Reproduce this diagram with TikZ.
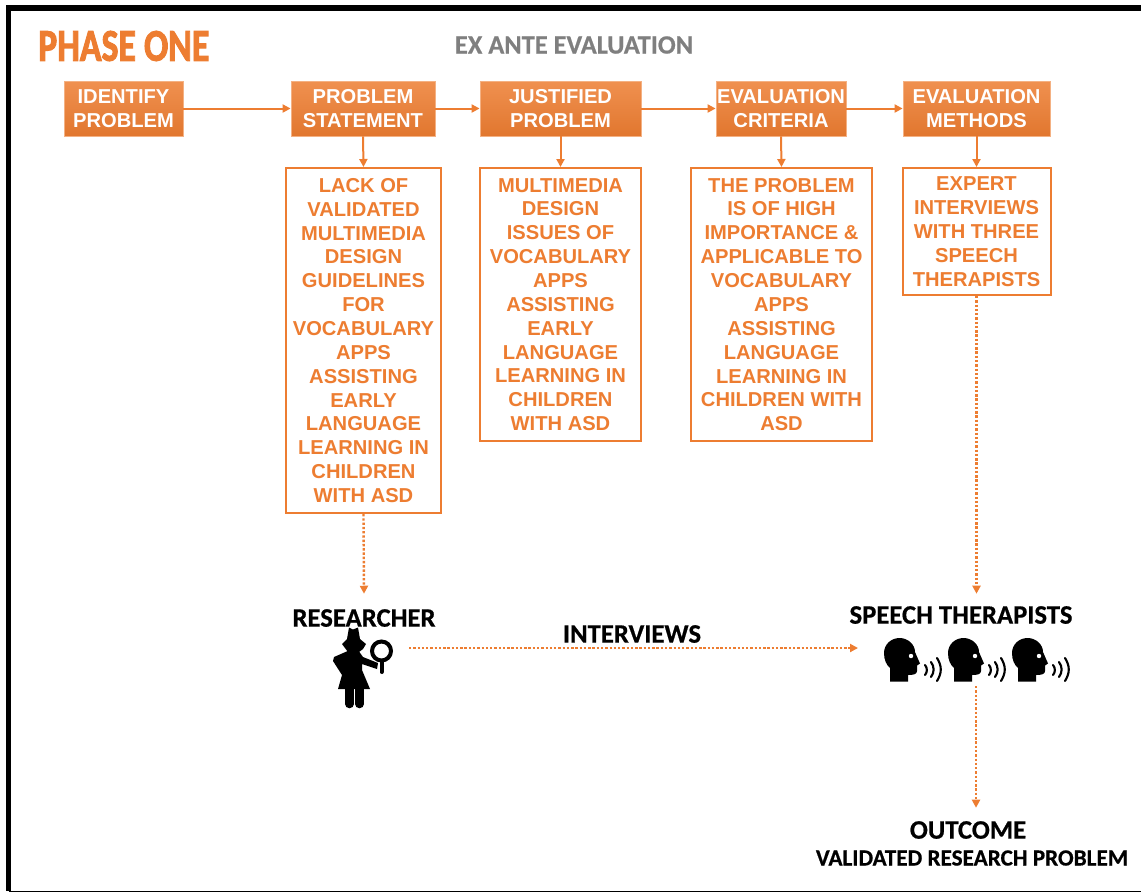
\documentclass[tikz,border=0pt]{standalone}
\usepackage{fontspec}
\setmainfont{Carlito}
\newfontfamily\boxfont{Liberation Sans}
\newfontfamily\heavyfont[FakeBold=2.5]{Carlito Bold}
\newfontfamily\semiheavyfont[FakeBold=0.6]{Carlito Bold}
\usepackage{xcolor}
\usetikzlibrary{arrows.meta}
\usetikzlibrary{shapes.geometric}
\definecolor{phaseorange}{HTML}{ED7D31}
\definecolor{phasegray}{HTML}{7F7F7F}
\tikzset{
    headbox/.style={rectangle, draw=phaseorange!60, line width=0.6pt,
        top color=phaseorange!85!white, bottom color=phaseorange!95!black,
        text=white, align=center, font=\boxfont\bfseries\fontsize{15.1}{17.9}\selectfont,
        inner sep=0pt, minimum height=41.25pt},
    textbox/.style={rectangle, draw=phaseorange, line width=1.5pt, fill=white,
        text=phaseorange, align=center, font=\boxfont\bfseries\fontsize{15.1}{17.9}\selectfont,
        inner sep=0pt},
    blacklabel/.style={align=center, font=\semiheavyfont\fontsize{20}{22}\selectfont, inner sep=0pt},
    solidline/.style={draw=phaseorange, line width=1.5pt, -{Triangle[length=6pt,width=6pt]}},
    dottedline/.style={draw=phaseorange, line width=1.8pt, dash pattern=on 1.8pt off 1.4pt,
        -{Triangle[length=6pt,width=6pt]}},
    speaker/.pic={
        \fill (10,51.5) -- (10,38) .. controls (6.5,35) and (4,30) .. (4,23)
            .. controls (4,14.5) and (11,8) .. (19.5,8)
            .. controls (28,8) and (35,14.5) .. (35,22)
            -- (40,33.5) -- (37,35.5) -- (37,41)
            .. controls (37,44) and (34,45) .. (28,45) -- (28,51.5) -- cycle;
        \fill[white] (31,26) circle (2.2);
        \draw[line width=1.6pt, line cap=round] (45,35) .. controls (47.5,38) and (47.5,42) .. (45,45);
        \draw[line width=1.6pt, line cap=round] (51,32) .. controls (54.5,37) and (54.5,42) .. (51,47);
        \draw[line width=1.6pt, line cap=round] (57,28) .. controls (62,36) and (62,43) .. (57,51);
    },
    detective/.pic={
        \fill (24,7.5) -- (28,9.5) -- (33,7.5) -- (35,19) -- (41,24) -- (38,29) -- (34,32)
            -- (23,32) -- (20,28) -- (17,24) -- (22,19) -- cycle;
        \fill (25,30) -- (9,37) -- (8,41) -- (17,55) -- (13,69) -- (45,69) -- (37,50)
            -- (37,44) -- (52,49) -- (53,43) -- (38,37) -- (33,30) -- cycle;
        \draw[line width=6.4pt, line cap=round] (24.5,68) -- (24.5,84);
        \draw[line width=6.4pt, line cap=round] (34.5,68) -- (34.5,84);
        \draw[line width=3pt] (56.5,31) circle (9.5);
        \draw[line width=3pt, line cap=round] (56.5,41) -- (56.5,52);
    }
}

\begin{document}
\begin{tikzpicture}[x=0.75pt, y=-0.75pt]
    \useasboundingbox (0,0) rectangle (1141,893);

    % frame
    \draw[line width=4pt] (1141,8) -- (8.5,8) -- (8.5,891);
    \draw[line width=1pt] (8.5,891.5) -- (1141,891.5);

    \node[anchor=west, text=phaseorange, xscale=0.79, font=\heavyfont\fontsize{34}{36}\selectfont, inner sep=0pt]
        (phase) at (38,46) {PHASE ONE};
    \node[text=phasegray, font=\semiheavyfont\fontsize{19.8}{22}\selectfont, inner sep=0pt]
        (exante) at (574,45) {EX ANTE EVALUATION};

    % header row
    \foreach \n/\x/\w/\m in {
        identify/123.5/119/{IDENTIFY\\PROBLEM},
        statement/363/144/{PROBLEM\\STATEMENT},
        justified/560.5/161/{JUSTIFIED\\PROBLEM},
        criteria/781/130/{EVALUATION\\CRITERIA},
        methods/976.5/147/{EVALUATION\\METHODS}}
        \node[headbox, minimum width=\w*0.75pt] (\n) at (\x,108.5) {\m};

    % text boxes
    \foreach \n/\x/\y/\w/\h/\m in {
        lack/363.5/340.5/155/345/{LACK OF\\VALIDATED\\MULTIMEDIA\\DESIGN\\GUIDELINES\\FOR\\VOCABULARY\\APPS\\ASSISTING\\EARLY\\LANGUAGE\\LEARNING IN\\CHILDREN\\WITH ASD},
        issues/560.5/304.5/161/273/{MULTIMEDIA\\DESIGN\\ISSUES OF\\VOCABULARY\\APPS\\ASSISTING\\EARLY\\LANGUAGE\\LEARNING IN\\CHILDREN\\WITH ASD},
        importance/781.5/304.5/181/273/{THE PROBLEM\\IS OF HIGH\\IMPORTANCE \&\\APPLICABLE TO\\VOCABULARY\\APPS\\ASSISTING\\LANGUAGE\\LEARNING IN\\CHILDREN WITH\\ASD},
        expert/976.5/231.5/148/127/{EXPERT\\INTERVIEWS\\WITH THREE\\SPEECH\\THERAPISTS}}
        \node[textbox, minimum width=\w*0.75pt, minimum height=\h*0.75pt] (\n) at (\x,\y) {\m};

    \node[blacklabel, minimum height=36pt] (researcher) at (364,618) {RESEARCHER};
    \node[blacklabel, minimum height=31.5pt] (therapists) at (961,615) {SPEECH THERAPISTS};
    \node[blacklabel] (interviews) at (632,634) {INTERVIEWS};
    \node[blacklabel, minimum height=33pt] (outcome) at (968,830) {OUTCOME};
    \node[blacklabel, font=\semiheavyfont\fontsize{17.4}{20}\selectfont] (validated) at (972,858) {VALIDATED RESEARCH PROBLEM};

    % icons
    \pic at (325,620) {detective};
    \foreach \x in {880, 944, 1008}
        \pic at (\x,630) {speaker};
    \coordinate (researcherout) at (409,648);
    \coordinate (therapistsin) at (858,648);
    \coordinate (therapistsout) at (976,686);

    % connectors
    \draw[solidline] (identify) -- (statement);
    \draw[solidline] (statement) -- (justified);
    \draw[solidline] (justified) -- (criteria);
    \draw[solidline] (criteria) -- (methods);
    \draw[solidline] (statement.south) -- (lack.north);
    \draw[solidline] (justified.south) -- (issues.north);
    \draw[solidline] (criteria.south) -- (importance.north);
    \draw[solidline] (methods.south) -- (expert.north);

    \draw[dottedline] (lack.south) -- (researcher.north);
    \draw[dottedline] (expert.south) -- (expert.south |- therapists.north);
    \draw[dottedline] (researcherout) -- (therapistsin);
    \draw[dottedline] (therapistsout) -- (therapistsout |- outcome.north);
\end{tikzpicture}
\end{document}
